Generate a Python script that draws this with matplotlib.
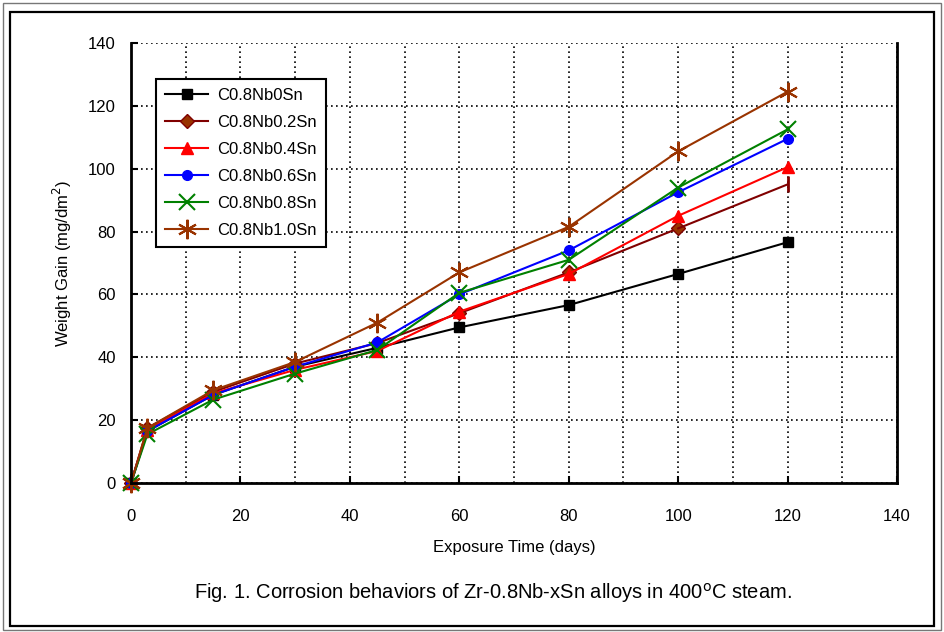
import matplotlib
matplotlib.use("Agg")
import matplotlib.pyplot as plt
from matplotlib.patches import Rectangle
from matplotlib.ticker import MultipleLocator

plt.rcParams["font.family"] = ["Liberation Sans", "DejaVu Sans"]

# exposure time (days)
days = [0, 3, 15, 30, 45, 60, 80, 100, 120]

# weight gain (mg/dm2)
sn00 = [0, 16.5, 28.0, 37.0, 43.0, 49.5, 56.6, 66.5, 76.6]
sn02 = [0, 17.5, 29.0, 38.0, 44.5, 54.0, 67.0, 81.0, 95.0]
sn04 = [0, 17.0, 28.5, 36.0, 42.0, 54.5, 66.5, 85.0, 100.5]
sn06 = [0, 16.5, 28.0, 37.0, 44.7, 60.0, 74.0, 92.5, 109.5]
sn08 = [0, 15.5, 26.5, 34.8, 42.3, 60.5, 71.0, 94.0, 112.5]
sn10 = [0, 17.5, 29.5, 38.5, 51.0, 67.0, 81.5, 105.5, 124.5]

labels = ["C0.8Nb0Sn", "C0.8Nb0.2Sn", "C0.8Nb0.4Sn",
          "C0.8Nb0.6Sn", "C0.8Nb0.8Sn", "C0.8Nb1.0Sn"]

fig = plt.figure(figsize=(9.44, 6.32), dpi=100)
ax = fig.add_axes([0.1388, 0.2358, 0.8114, 0.6962])

# figure frames
fig.patches.append(Rectangle((0.003, 0.003), 0.994, 0.993, transform=fig.transFigure,
                             fill=False, edgecolor="#777777", lw=1.0))
fig.patches.append(Rectangle((0.0105, 0.0095), 0.979, 0.971, transform=fig.transFigure,
                             fill=False, edgecolor="black", lw=1.6))

kw = dict(lw=1.5, clip_on=False)
ax.plot(days, sn00, "-", color="black", marker="s", ms=7, label=labels[0], **kw)
ax.plot(days[:-1], sn02[:-1], "-", color="#800000", marker="D", ms=7,
        mfc="#993300", mec="#800000", label=labels[1], **kw)
ax.plot(days[-2:], sn02[-2:], "-", color="#800000", **kw)
ax.plot(days[-1], sn02[-1], marker="|", color="#800000", ms=11, mew=2)
ax.plot(days, sn04, "-", color="red", marker="^", ms=8, label=labels[2], **kw)
ax.plot(days, sn06, "-", color="blue", marker="o", ms=7, label=labels[3], **kw)
ax.plot(days, sn08, "-", color="#008000", marker="x", ms=12, mew=1.5,
        label=labels[4], **kw)
ax.plot(days, sn10, "-", color="#993300", marker=(6, 2, 0), ms=14, mew=1.5,
        label=labels[5], **kw)

ax.set_xlim(0, 140)
ax.set_ylim(0, 140)
ax.xaxis.set_major_locator(MultipleLocator(20))
ax.xaxis.set_minor_locator(MultipleLocator(10))
ax.yaxis.set_major_locator(MultipleLocator(20))
ax.grid(True, which="major", axis="y", color="black", linestyle=(0, (1, 2)), lw=1.2)
ax.grid(True, which="both", axis="x", color="black", linestyle=(0, (1, 2)), lw=1.2)
ax.set_axisbelow(True)
ax.tick_params(which="major", direction="in", length=5, width=1.5, labelsize=12)
ax.tick_params(axis="x", which="major", pad=19)
ax.tick_params(axis="y", which="major", pad=11)
ax.tick_params(which="minor", length=0)

ax.spines["top"].set_visible(False)
for s in ["left", "bottom", "right"]:
    ax.spines[s].set_linewidth(2)

ax.set_xlabel("Exposure Time (days)", fontsize=12, labelpad=11)
ax.set_ylabel("Weight Gain (mg/dm$^2$)", fontsize=12, labelpad=10)

leg = ax.legend(loc="upper left", bbox_to_anchor=(0.0326, 0.918), borderaxespad=0,
                fontsize=12, frameon=True, fancybox=False, edgecolor="black",
                framealpha=1, handlelength=2.6, labelspacing=0.72, borderpad=0.55,
                handletextpad=0.5)
leg.get_frame().set_linewidth(1.5)

fig.text(0.522, 0.062,
         "Fig. 1. Corrosion behaviors of Zr-0.8Nb-xSn alloys in 400$^{\\rm o}$C steam.",
         ha="center", va="center", fontsize=14.5)

fig.savefig("out.png", dpi=100)
